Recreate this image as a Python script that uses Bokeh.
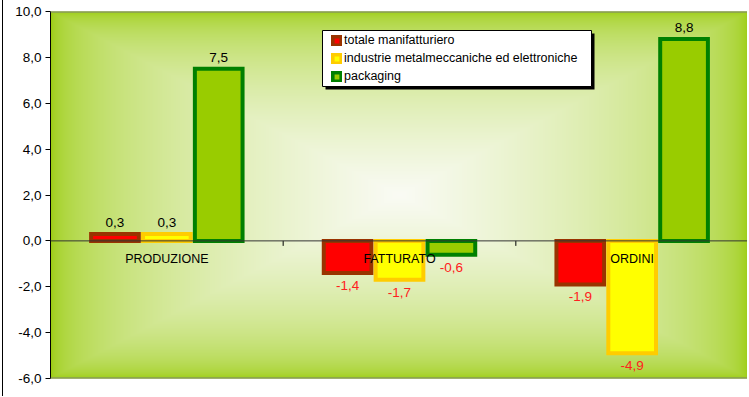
import numpy as np
from bokeh.plotting import figure
from bokeh.models import (ColumnDataSource, Legend, LegendItem, FixedTicker, Span,
                          BoxAnnotation, Range1d)
from bokeh.core.properties import value
from bokeh.transform import dodge
from bokeh.embed import file_html
from bokeh.resources import INLINE

# ---------------- data ----------------
categories = ["PRODUZIONE", "FATTURATO", "ORDINI"]
series_names = ["totale manifatturiero",
                "industrie metalmeccaniche ed elettroniche",
                "packaging"]
totale = [0.3, -1.4, -1.9]
industrie = [0.3, -1.7, -4.9]
packaging = [7.5, -0.6, 8.8]
y_ticks = [-6, -4, -2, 0, 2, 4, 6, 8, 10]
y_tick_labels = ["-6,0", "-4,0", "-2,0", "0,0", "2,0", "4,0", "6,0", "8,0", "10,0"]

# ---------------- style ----------------
FONT = "Liberation Sans"
fills = ["#FF0000", "#FFFF00", "#99CC00"]
borders = ["#993300", "#FFCC00", "#008000"]
dodges = [-0.223, 0.0, 0.223]
BAR_W = 0.205

W, H = 745, 396
BL, BT, BB, BR = 47, 11, 18, 0
FW, FH = W - BL - BR, H - BT - BB
Y0, Y1 = y_ticks[0], y_ticks[-1]
NC = len(categories)

p = figure(width=W, height=H, x_range=Range1d(0, NC), y_range=Range1d(Y0, Y1),
           output_backend="svg", toolbar_location=None,
           min_border_left=BL, min_border_top=BT, min_border_bottom=BB,
           min_border_right=BR)
p.styles = {"margin-left": "2px", "border-left": "1px solid black"}
p.xaxis.visible = False
p.grid.visible = False
p.outline_line_color = None
p.background_fill_color = "#99CC00"
p.border_fill_color = "white"

# background gradient (rectangular "from center")
nx, ny = FW, FH
gx, gy = np.meshgrid(np.linspace(-1, 1, nx), np.linspace(-1, 1, ny))
t = np.maximum(np.abs(gx), np.abs(gy))
f = (1 - t) ** 0.45
edge = np.array([153, 204, 10], dtype=float)
center = np.array([250, 251, 245], dtype=float)
rgb = edge + (center - edge) * f[..., None]
img = np.empty((ny, nx), dtype=np.uint32)
view = img.view(dtype=np.uint8).reshape((ny, nx, 4))
view[..., :3] = np.clip(rgb, 0, 255).astype(np.uint8)
view[..., 3] = 255
p.image_rgba(image=[img], x=0, y=Y0, dw=NC, dh=Y1 - Y0)

# plot-area top / bottom border
p.add_layout(Span(location=Y1, dimension="width", line_color="#808080", line_width=2))
p.add_layout(Span(location=Y0, dimension="width", line_color="#808080", line_width=2))

# y axis
yax = p.yaxis[0]
yax.ticker = FixedTicker(ticks=y_ticks)
yax.major_label_overrides = {t_: l for t_, l in zip(y_ticks, y_tick_labels)}
yax.minor_tick_line_color = None
yax.major_tick_in = 0
yax.major_tick_out = 5
yax.axis_line_color = "black"
yax.major_tick_line_color = "black"
yax.major_label_standoff = 4
yax.major_label_text_font = FONT
yax.major_label_text_font_size = "13.5px"
yax.major_label_text_color = "black"

# zero line and category ticks
p.add_layout(Span(location=0, dimension="width", line_color="#333333", line_width=1))
bounds = list(range(1, NC + 1))
tick_len = 5 * (Y1 - Y0) / FH
p.segment(x0=bounds, y0=[0] * len(bounds), x1=bounds, y1=[-tick_len] * len(bounds),
          line_color="black", line_width=1)

# bars
xs = [i + 0.5 for i in range(NC)]
renderers = []
for vals, fc, lc, dd in zip([totale, industrie, packaging], fills, borders, dodges):
    src = ColumnDataSource(dict(x=xs, top=vals))
    r = p.vbar(x=dodge("x", dd, range=p.x_range), top="top", bottom=0, width=BAR_W,
               source=src, fill_color=fc, line_color=lc, line_width=4,
               line_join="miter")
    renderers.append(r)

# value labels
for vals, dd in zip([totale, industrie, packaging], dodges):
    src = ColumnDataSource(dict(
        x=xs, y=vals,
        txt=[f"{v:.1f}".replace(".", ",") for v in vals],
        base=["bottom" if v >= 0 else "top" for v in vals],
        off=[-7 if v >= 0 else 8 for v in vals],
        col=["black" if v >= 0 else "#FF2020" for v in vals]))
    p.text(x=dodge("x", dd, range=p.x_range), y="y", text="txt", source=src,
           text_align="center", text_baseline="base", y_offset="off",
           text_color="col", text_font=value(FONT), text_font_size="13.5px")

# category labels
csrc = ColumnDataSource(dict(x=xs, y=[0] * NC, txt=categories))
p.text(x="x", y="y", text="txt", source=csrc, text_align="center",
       text_baseline="middle", y_offset=18, text_color="black",
       text_font=value(FONT), text_font_size="12.5px")

# legend box (frame pixel coords) + shadow
BOX_L, BOX_T, BOX_W, BOX_H = 272, 19, 269, 56
sx = NC / FW
sy = (Y1 - Y0) / FH


def box(l, t_, w, h, **kw):
    return BoxAnnotation(left=l * sx, right=(l + w) * sx,
                         top=Y1 - t_ * sy, bottom=Y1 - (t_ + h) * sy, **kw)


p.add_layout(box(BOX_L + 3, BOX_T + 3, BOX_W, BOX_H,
                 fill_color="black", fill_alpha=1, line_color=None))
p.add_layout(box(BOX_L, BOX_T, BOX_W, BOX_H, fill_color="white", fill_alpha=1,
                 line_color="black", line_width=1, line_alpha=1))
legend = Legend(items=[LegendItem(label=n, renderers=[r])
                       for n, r in zip(series_names, renderers)],
                location=(BOX_L + 9, FH - BOX_T - 1 - 54))
legend.border_line_color = None
legend.background_fill_alpha = 0
legend.label_text_font = FONT
legend.label_text_font_size = "12.5px"
legend.label_text_color = "black"
legend.glyph_width = 11
legend.glyph_height = 11
legend.label_standoff = 2
legend.label_height = 18
legend.spacing = 0
legend.padding = 0
legend.margin = 0
p.add_layout(legend)

open("out.html", "w").write(file_html(p, INLINE))
